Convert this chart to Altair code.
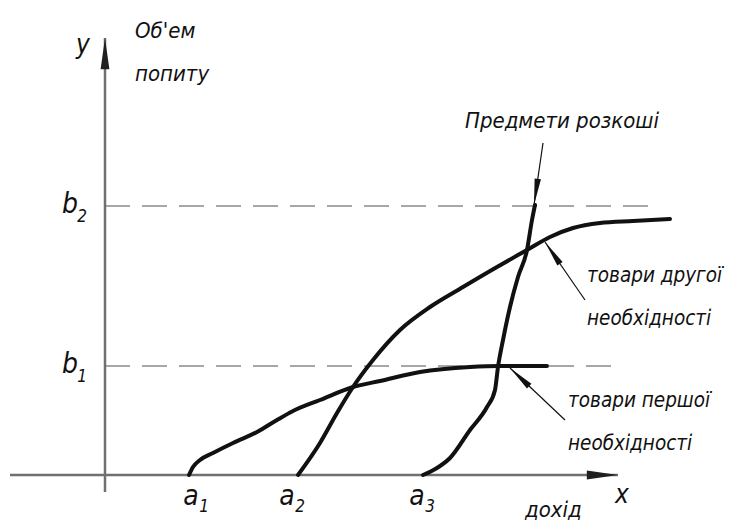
import altair as alt
import pandas as pd
import numpy as np

# ---------------- data (units; origin = axis crossing) -------------
first_x = [84, 88, 95, 108, 128, 152, 172, 188, 215, 248, 275, 315, 365, 395, 442]
first_y = [0, 8, 15, 22, 32, 43, 55, 64, 75, 88, 94, 103, 108, 109, 109]

second_x = [193, 215, 232, 248, 268, 295, 325, 358, 392, 422, 445, 468, 495, 528, 565]
second_y = [0, 32, 62, 88, 115, 145, 168, 188, 208, 225, 238, 247, 252, 254, 256]

lux_x = [318, 332, 345, 365, 382, 390, 393, 398, 405, 413, 422, 427, 430]
lux_y = [0, 7, 17, 45, 68, 85, 108, 135, 168, 198, 225, 255, 270]

# levels on the y axis and their labels
b_values = [109, 269]
b_ends = [513, 545]
b_subs = ["1", "2"]

# income levels on the x axis
a_values = [86, 182, 312]
a_subs = ["1", "2", "3"]

# axis extents
x_axis = [-95, 513]
y_axis = [-17, 437]

# annotation arrows (tail -> tip)
ann_tail_x = [438, 480, 460]
ann_tail_y = [332, 175, 55]
ann_tip_x = [429, 440, 405]
ann_tip_y = [270, 233, 107]

# text labels: upper/left group and right-hand group
top_txt = ["Об'ем", "попиту", "Предмети розкоші", "дохід"]
top_x = [30, 30, 360, 420]
top_y = [437, 394, 347, -42]

side_txt = ["товари другої", "необхідності", "товари першої", "необхідності"]
side_x = [482, 482, 463, 463]
side_y = [193, 150, 68, 25]

FONT = "Liberation Sans Narrow, DejaVu Sans Condensed, DejaVu Sans, sans-serif"
INK = "#111111"
AX = "#707070"

xs = alt.Scale(domain=[-97, 637], nice=False, zero=False)
ys = alt.Scale(domain=[-38, 467], nice=False, zero=False)
X = lambda f: alt.X(f, type="quantitative", scale=xs, axis=None)
Y = lambda f: alt.Y(f, type="quantitative", scale=ys, axis=None)

# ---------------- frames ----------------
curves = pd.concat([
    pd.DataFrame({"x": first_x, "y": first_y, "s": "first", "o": range(len(first_x))}),
    pd.DataFrame({"x": second_x, "y": second_y, "s": "second", "o": range(len(second_x))}),
    pd.DataFrame({"x": lux_x, "y": lux_y, "s": "lux", "o": range(len(lux_x))}),
])

levels = pd.DataFrame({"x": 0, "x2": b_ends, "y": b_values})

axes = pd.DataFrame({
    "x": [x_axis[0], 0], "x2": [x_axis[1], 0],
    "y": [0, y_axis[0]], "y2": [0, y_axis[1]],
})
axis_heads = pd.DataFrame({"x": [x_axis[1], 0], "y": [0, y_axis[1]], "a": [90, 0]})

ann = pd.DataFrame({"x": ann_tail_x, "y": ann_tail_y, "x2": ann_tip_x, "y2": ann_tip_y})
ann["a"] = np.degrees(np.arctan2(ann["x2"] - ann["x"], ann["y2"] - ann["y"])) % 360

top_lab = pd.DataFrame({"x": top_x, "y": top_y, "t": top_txt})
side_lab = pd.DataFrame({"x": side_x, "y": side_y, "t": side_txt})
a_lab = pd.DataFrame({"x": a_values, "y": 0, "t": "a", "s": a_subs})
b_lab = pd.DataFrame({"x": -35, "y": b_values, "t": "b", "s": b_subs})
xy_lab = pd.DataFrame({"x": [517, -22], "y": [-20, 430], "t": ["x", "y"]})

HEAD_AXIS = "M0,0 L-0.55,3.9 L0.55,3.9 Z"
HEAD_ANN = "M0,0 L-0.4,3.3 L0.4,3.3 Z"

# ---------------- layers ----------------
lvl = alt.Chart(levels).mark_rule(color="#8a8a8a", strokeWidth=1.6, strokeDash=[25, 12]).encode(
    x=X("x"), x2="x2", y=Y("y"))

axl = alt.Chart(axes).mark_rule(color=AX, strokeWidth=2.5).encode(
    x=X("x"), x2="x2", y=Y("y"), y2="y2")

axh = alt.Chart(axis_heads).mark_point(shape=HEAD_AXIS, size=256, filled=True, color="#202020",
                                       opacity=1, strokeWidth=0).encode(
    x=X("x"), y=Y("y"), angle=alt.Angle("a:Q", scale=None))

crv = alt.Chart(curves).mark_line(color=INK, strokeWidth=4, interpolate="monotone",
                                  strokeCap="round").encode(
    x=X("x"), y=Y("y"), detail="s:N", order="o:Q")

annl = alt.Chart(ann).mark_rule(color=INK, strokeWidth=1.2).encode(
    x=X("x"), y=Y("y"), x2="x2", y2="y2")

annh = alt.Chart(ann).mark_point(shape=HEAD_ANN, size=256, filled=True, color=INK,
                                 opacity=1, strokeWidth=0).encode(
    x=X("x2"), y=Y("y2"), angle=alt.Angle("a:Q", scale=None))

top_t = alt.Chart(top_lab).mark_text(font=FONT, fontSize=22, fontStyle="italic", color=INK,
                                     align="left", baseline="alphabetic").encode(
    x=X("x"), y=Y("y"), text="t:N")

side_t = alt.Chart(side_lab).mark_text(font=FONT, fontSize=20.5, fontStyle="italic", color=INK,
                                       align="left", baseline="alphabetic").encode(
    x=X("x"), y=Y("y"), text="t:N")

a_main = alt.Chart(a_lab).mark_text(font=FONT, fontSize=28, fontStyle="italic", color=INK,
                                    align="center", baseline="alphabetic", dy=30).encode(
    x=X("x"), y=Y("y"), text="t:N")
a_sub = alt.Chart(a_lab).mark_text(font=FONT, fontSize=17, fontStyle="italic", color=INK,
                                   align="center", baseline="alphabetic", dx=13, dy=37).encode(
    x=X("x"), y=Y("y"), text="s:N")

b_main = alt.Chart(b_lab).mark_text(font=FONT, fontSize=28, fontStyle="italic", color=INK,
                                    align="center", baseline="alphabetic", dy=7).encode(
    x=X("x"), y=Y("y"), text="t:N")
b_sub = alt.Chart(b_lab).mark_text(font=FONT, fontSize=17, fontStyle="italic", color=INK,
                                   align="center", baseline="alphabetic", dx=12, dy=16).encode(
    x=X("x"), y=Y("y"), text="s:N")

xyl = alt.Chart(xy_lab).mark_text(font=FONT, fontSize=26, fontStyle="italic", color=INK,
                                  align="center", baseline="middle").encode(
    x=X("x"), y=Y("y"), text="t:N")

chart = alt.layer(lvl, axl, crv, annl, annh, axh, top_t, side_t, a_main, a_sub, b_main, b_sub,
                  xyl).properties(
    width=734, height=505, padding=0, background="white"
).configure_view(stroke=None)

chart.save("out.html", embed_options={"renderer": "svg", "actions": False})
